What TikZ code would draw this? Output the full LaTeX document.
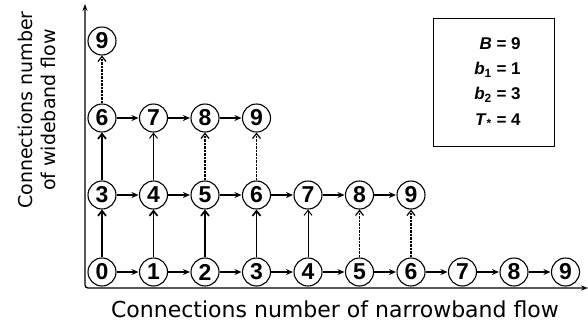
\documentclass[tikz,border=0pt]{standalone}
\usepackage{fontspec}
\setmainfont{Liberation Sans}
\newfontfamily\labelfont{DejaVu Sans}
\usetikzlibrary{arrows.meta}

\begin{document}
\begin{tikzpicture}[x=1pt,y=-1pt]
    \tikzstyle{state}=[circle,draw,line width=1.1pt,minimum size=28pt,inner sep=0pt,font=\fontsize{23}{23}\selectfont\bfseries]
    \tikzstyle{hop}=[-{Stealth[length=7pt,width=6pt]},line width=1.7pt,shorten >=0.5pt]
    \tikzstyle{rise}=[-{Straight Barb[length=5pt,width=8pt]},line width=1.7pt]
    \tikzstyle{rise thin}=[rise,line width=1pt]
    \tikzstyle{rise dashed}=[rise,line width=1.2pt,dash pattern=on 2.5pt off 1pt]
    \tikzstyle{axis}=[{Stealth[length=7pt,width=5pt]}-{Stealth[length=7pt,width=5pt]},line width=1.3pt,rounded corners=3pt]
    \tikzstyle{annot}=[align=center,inner sep=0pt]
    \tikzstyle{params}=[draw,line width=1pt,minimum width=121pt,minimum height=128pt,font=\fontsize{17}{25.3}\selectfont\bfseries]
	\def\colsep{51.5}
	\def\rowsep{77}

    \useasboundingbox (0,0) rectangle (588,325);

    % Draw the states, one row per number of wideband connections
    \foreach \r/\last in {0/9,1/6,2/3,3/0}
        \foreach \c in {0,...,\last}{
            \pgfmathtruncatemacro{\val}{3*\r+\c}
            \node[state] (S-\r-\c) at (102+\c*\colsep, 272-\r*\rowsep) {\val};
        }

    % One more narrowband connection: go right
    \foreach \r/\last in {0/8,1/5,2/2}
        \foreach \c in {0,...,\last}{
            \pgfmathtruncatemacro{\nxt}{\c+1}
            \draw[hop] (S-\r-\c) -- (S-\r-\nxt);
        }

    % One more wideband connection: go up
    \foreach \r/\last in {0/6,1/3,2/0}
        \foreach \c in {0,...,\last}{
            \pgfmathtruncatemacro{\up}{\r+1}
            \pgfmathtruncatemacro{\tgt}{3*\up+\c}
            \ifnum\tgt<7 \def\kind{rise}\else\ifnum\tgt=7 \def\kind{rise thin}\else\def\kind{rise dashed}\fi\fi
            \draw[\kind] (S-\r-\c) -- (S-\up-\c);
        }

    % Axes
    \coordinate (ytip) at (85,4);
    \coordinate (xtip) at (588,288);
    \draw[axis] (ytip) |- (xtip);

    % Annotate the axes
    \node[annot,rotate=90,font=\labelfont\fontsize{19}{23}\selectfont] (ylab) at (37,110) {Connections number\\of wideband flow};
    \node[annot,font=\labelfont\fontsize{22}{24}\selectfont] (xlab) at (335,309) {Connections number of narrowband flow};

    % Parameters
    \node[params] (par) at (493.5,82) {%
        \hspace*{8pt}\begin{tabular}{@{}r@{ = }l@{}}
        \textit{B} & 9\\
        \textit{b}\textsubscript{1} & 1\\
        \textit{b}\textsubscript{2} & 3\\
        \textit{T}\textsubscript{*} & 4
        \end{tabular}};

\end{tikzpicture}
\end{document}
